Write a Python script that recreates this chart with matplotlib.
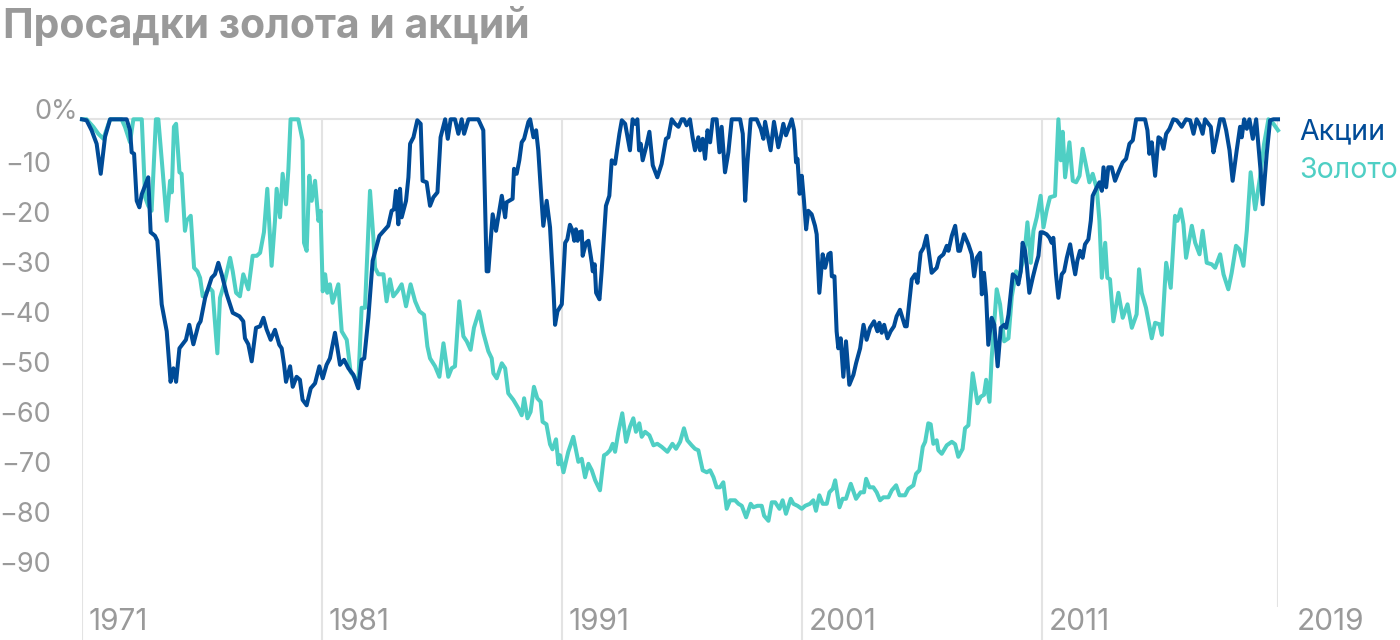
import matplotlib
matplotlib.use('Agg')
import matplotlib.pyplot as plt
from matplotlib.transforms import blended_transform_factory, offset_copy

plt.rcParams['font.family'] = ['Inter', 'DejaVu Sans']

# ---------------- data (drawdown from previous peak, %) ----------------
stocks_year = [
    1971.0, 1971.19, 1971.40, 1971.61, 1971.78, 1971.96, 1972.17, 1972.86, 1973.0, 1973.07,
    1973.17, 1973.28, 1973.39, 1973.49, 1973.76, 1973.86, 1974.04, 1974.14, 1974.32, 1974.53,
    1974.69, 1974.81, 1974.92, 1975.06, 1975.22, 1975.33, 1975.47, 1975.64, 1975.85, 1975.94,
    1976.13, 1976.40, 1976.54, 1976.68, 1976.82, 1977.03, 1977.28, 1977.56, 1977.72, 1977.79,
    1977.93, 1978.07, 1978.25, 1978.42, 1978.56, 1978.69, 1978.86, 1979.04, 1979.22, 1979.32,
    1979.42, 1979.50, 1979.67, 1979.78, 1979.94, 1980.08, 1980.19, 1980.36, 1980.53, 1980.71,
    1980.89, 1981.03, 1981.19, 1981.33, 1981.54, 1981.75, 1981.92, 1982.10, 1982.31, 1982.51,
    1982.65, 1982.76, 1982.93, 1983.11, 1983.39, 1983.63, 1983.76, 1983.90, 1984.00, 1984.08,
    1984.18, 1984.25, 1984.32, 1984.50, 1984.60, 1984.67, 1984.81, 1984.97, 1985.11, 1985.19,
    1985.36, 1985.50, 1985.64, 1985.81, 1985.94, 1986.13, 1986.24, 1986.36, 1986.54, 1986.68,
    1986.82, 1986.92, 1987.10, 1987.51, 1987.72, 1987.86, 1987.93, 1988.11, 1988.25, 1988.49,
    1988.63, 1988.69, 1988.94, 1989.00, 1989.11, 1989.22, 1989.32, 1989.42, 1989.60, 1989.67,
    1989.81, 1989.92, 1990.01, 1990.11, 1990.22, 1990.36, 1990.50, 1990.64, 1990.71, 1990.81,
    1990.99, 1991.13, 1991.22, 1991.33, 1991.44, 1991.51, 1991.58, 1991.65, 1991.72, 1991.82,
    1991.86, 1992.00, 1992.10, 1992.24, 1992.28, 1992.36, 1992.42, 1992.56, 1992.65, 1992.83,
    1992.97, 1993.07, 1993.21, 1993.31, 1993.39, 1993.49, 1993.63, 1993.83, 1993.94, 1994.04,
    1994.14, 1994.21, 1994.28, 1994.36, 1994.50, 1994.64, 1994.78, 1994.97, 1995.15, 1995.33,
    1995.43, 1995.57, 1995.71, 1995.85, 1995.99, 1996.08, 1996.19, 1996.33, 1996.44, 1996.54,
    1996.68, 1996.75, 1996.86, 1996.96, 1997.06, 1997.17, 1997.28, 1997.44, 1997.56, 1997.65,
    1997.79, 1997.93, 1998.07, 1998.42, 1998.53, 1998.63, 1998.72, 1998.86, 1999.11, 1999.28,
    1999.39, 1999.46, 1999.60, 1999.69, 1999.83, 2000.01, 2000.11, 2000.22, 2000.33, 2000.43,
    2000.57, 2000.67, 2000.75, 2000.81, 2000.90, 2000.99, 2001.08, 2001.17, 2001.26, 2001.40,
    2001.54, 2001.61, 2001.72, 2001.86, 2001.96, 2002.10, 2002.19, 2002.24, 2002.35, 2002.44,
    2002.51, 2002.61, 2002.72, 2002.83, 2002.97, 2003.14, 2003.25, 2003.42, 2003.56, 2003.69,
    2003.83, 2004.00, 2004.14, 2004.22, 2004.32, 2004.42, 2004.56, 2004.69, 2004.83, 2004.94,
    2005.08, 2005.29, 2005.36, 2005.57, 2005.71, 2005.81, 2005.94, 2006.06, 2006.19, 2006.40,
    2006.61, 2006.72, 2006.89, 2007.03, 2007.10, 2007.24, 2007.38, 2007.51, 2007.58, 2007.75,
    2007.93, 2008.07, 2008.17, 2008.28, 2008.42, 2008.49, 2008.58, 2008.67, 2008.76, 2008.90,
    2009.01, 2009.15, 2009.28, 2009.42, 2009.50, 2009.60, 2009.78, 2009.94, 2010.01, 2010.11,
    2010.19, 2010.29, 2010.36, 2010.47, 2010.61, 2010.75, 2010.85, 2010.94, 2011.03, 2011.19,
    2011.31, 2011.40, 2011.47, 2011.58, 2011.68, 2011.82, 2011.92, 2012.03, 2012.17, 2012.28,
    2012.38, 2012.47, 2012.58, 2012.69, 2012.79, 2012.93, 2013.03, 2013.11, 2013.25, 2013.39,
    2013.49, 2013.56, 2013.67, 2013.76, 2013.90, 2014.04, 2014.18, 2014.36, 2014.50, 2014.64,
    2014.78, 2014.92, 2015.29, 2015.39, 2015.47, 2015.57, 2015.71, 2015.85, 2015.94, 2016.06,
    2016.17, 2016.31, 2016.47, 2016.61, 2016.82, 2017.00, 2017.17, 2017.31, 2017.44, 2017.58,
    2017.69, 2017.79, 2017.93, 2018.03, 2018.14, 2018.25, 2018.42, 2018.56, 2018.67, 2018.81,
    2018.94, 2019.11, 2019.25, 2019.32, 2019.42, 2019.53, 2019.64, 2019.78, 2019.92, 2020.11,
    2020.19, 2020.36, 2020.50, 2020.64, 2020.83,
]
stocks_dd = [
    0, -0.2, -2.2, -4.9, -10.9, -3.5, 0, 0, -2.2, -6.6,
    -6.9, -16.3, -17.6, -15.0, -11.6, -22.6, -23.3, -24.3, -37.0, -42.4,
    -52.5, -49.8, -52.5, -45.8, -44.8, -44.1, -41.1, -45.0, -41.1, -40.4,
    -35.7, -31.7, -31.0, -28.7, -31.0, -35.0, -38.7, -39.4, -40.4, -43.8,
    -45.0, -48.4, -41.7, -41.4, -39.7, -42.0, -44.1, -42.1, -45.1, -45.8,
    -49.1, -52.5, -49.4, -53.5, -51.5, -52.1, -56.1, -57.2, -53.8, -52.8,
    -49.4, -51.8, -49.1, -47.8, -42.7, -49.1, -48.1, -49.8, -51.1, -53.8,
    -48.1, -47.8, -39.7, -28.3, -23.3, -22.0, -21.3, -18.3, -18.0, -14.3,
    -21.0, -13.9, -19.6, -16.3, -11.6, -4.9, -3.6, -0.2, -0.9, -12.3,
    -12.6, -17.3, -15.6, -14.6, -3.6, 0, -3.9, 0, 0, -2.9,
    0, -2.9, 0, 0, -2.2, -30.4, -30.4, -19.0, -22.3, -15.3,
    -19.6, -16.6, -15.9, -9.9, -10.9, -8.2, -4.6, -3.9, -0.5, 0,
    -3.6, -2.2, -6.2, -13.6, -21.3, -16.3, -21.6, -33.7, -41.1, -38.4,
    -37.0, -24.7, -24.0, -21.1, -22.3, -24.3, -22.0, -24.3, -22.6, -22.4,
    -27.3, -24.7, -24.3, -28.7, -30.4, -29.0, -34.7, -36.0, -30.4, -17.3,
    -15.3, -8.2, -8.9, -5.6, -2.9, -0.2, -0.9, -6.2, 0, -0.9,
    0, -6.2, -4.9, -8.2, -5.6, -2.5, -9.2, -11.6, -8.9, -3.9,
    -3.6, 0, -0.9, -1.5, 0, 0, -1.2, 0, -3.6, -6.2,
    -3.6, -6.2, -3.9, -7.9, -2.2, -4.6, 0, 0, -6.6, -1.5,
    -10.6, -6.6, 0, 0, -2.9, -16.3, -8.9, 0, 0, -1.9,
    -3.9, -0.5, -3.9, -6.2, -0.5, -5.6, -3.6, -0.9, -3.2, -1.9,
    0, -2.2, -8.6, -7.9, -14.9, -11.3, -16.3, -22.0, -18.3, -19.0,
    -21.3, -23.0, -34.7, -27.0, -29.7, -27.0, -26.7, -31.4, -31.4, -42.4,
    -45.8, -43.8, -51.5, -44.4, -53.1, -51.1, -48.8, -45.8, -41.1, -44.1,
    -41.7, -40.4, -42.4, -40.7, -42.7, -41.1, -43.8, -42.4, -41.4, -39.4,
    -38.1, -41.4, -41.4, -32.0, -31.0, -32.7, -26.7, -25.7, -23.3, -30.7,
    -29.7, -27.7, -27.0, -25.3, -26.3, -23.3, -21.3, -26.3, -26.3, -23.0,
    -25.0, -27.0, -31.4, -27.7, -26.7, -35.0, -30.7, -35.4, -45.1, -39.7,
    -41.1, -49.4, -41.7, -41.1, -41.7, -39.1, -31.0, -31.7, -33.0, -30.4,
    -24.7, -26.3, -29.0, -34.7, -31.7, -29.0, -27.3, -22.6, -22.6, -23.0,
    -23.7, -24.7, -23.7, -31.0, -35.7, -31.0, -30.4, -27.7, -25.0, -28.3,
    -31.0, -28.3, -26.3, -27.7, -25.0, -24.0, -20.3, -15.3, -13.9, -12.6,
    -14.3, -9.6, -13.6, -9.6, -9.6, -12.3, -10.6, -8.6, -7.9, -4.9,
    -4.2, 0, 0, -2.2, -6.9, -4.6, -11.3, -3.6, -3.9, -5.9,
    -2.9, -1.9, 0, -0.2, -1.5, 0, -0.2, -2.9, 0, -1.2,
    -2.9, 0, -0.9, -1.5, -6.6, -4.2, 0, 0, -2.2, -6.2,
    -12.3, -6.2, -1.5, -3.6, 0, -1.9, 0, -3.9, 0, -10.6,
    -17.0, -6.9, -0.2, 0, 0,
]

gold_year = [
    1971.0, 1971.19, 1971.47, 1971.68, 1971.89, 1972.17, 1972.65, 1972.79, 1973.0, 1973.14,
    1973.49, 1973.63, 1973.76, 1973.90, 1974.08, 1974.18, 1974.36, 1974.53, 1974.67, 1974.74,
    1974.83, 1974.92, 1975.06, 1975.15, 1975.29, 1975.36, 1975.53, 1975.67, 1975.81, 1975.92,
    1976.03, 1976.17, 1976.31, 1976.44, 1976.64, 1976.75, 1976.92, 1977.17, 1977.28, 1977.42,
    1977.58, 1977.72, 1977.93, 1978.11, 1978.28, 1978.42, 1978.58, 1978.72, 1978.90, 1979.04,
    1979.11, 1979.25, 1979.36, 1979.50, 1979.60, 1979.69, 1980.01, 1980.19, 1980.25, 1980.36,
    1980.47, 1980.57, 1980.71, 1980.85, 1980.94, 1981.03, 1981.13, 1981.22, 1981.33, 1981.44,
    1981.68, 1981.82, 1982.03, 1982.19, 1982.38, 1982.51, 1982.65, 1982.79, 1983.00, 1983.14,
    1983.21, 1983.35, 1983.56, 1983.69, 1983.83, 1983.97, 1984.14, 1984.32, 1984.50, 1984.69,
    1984.88, 1985.06, 1985.25, 1985.39, 1985.50, 1985.71, 1985.89, 1986.06, 1986.26, 1986.40,
    1986.54, 1986.72, 1986.89, 1987.03, 1987.19, 1987.33, 1987.54, 1987.72, 1987.93, 1988.07,
    1988.14, 1988.28, 1988.49, 1988.63, 1988.76, 1988.97, 1989.18, 1989.32, 1989.42, 1989.56,
    1989.69, 1989.83, 1989.97, 1990.11, 1990.19, 1990.35, 1990.50, 1990.60, 1990.75, 1990.85,
    1990.92, 1991.06, 1991.26, 1991.47, 1991.68, 1991.82, 1991.96, 1992.10, 1992.24, 1992.38,
    1992.58, 1992.75, 1992.86, 1993.00, 1993.11, 1993.21, 1993.35, 1993.51, 1993.67, 1993.83,
    1993.97, 1994.08, 1994.22, 1994.32, 1994.46, 1994.64, 1994.81, 1994.97, 1995.15, 1995.39,
    1995.60, 1995.75, 1995.92, 1996.08, 1996.22, 1996.40, 1996.54, 1996.68, 1996.86, 1997.03,
    1997.17, 1997.31, 1997.44, 1997.58, 1997.72, 1997.86, 1998.00, 1998.21, 1998.35, 1998.49,
    1998.67, 1998.86, 1998.97, 1999.14, 1999.32, 1999.42, 1999.60, 1999.74, 1999.88, 2000.06,
    2000.19, 2000.33, 2000.53, 2000.64, 2000.81, 2000.99, 2001.13, 2001.33, 2001.47, 2001.58,
    2001.72, 2001.86, 2002.03, 2002.14, 2002.28, 2002.38, 2002.56, 2002.69, 2002.83, 2003.03,
    2003.25, 2003.44, 2003.58, 2003.67, 2003.81, 2003.97, 2004.11, 2004.25, 2004.39, 2004.60,
    2004.74, 2004.92, 2005.06, 2005.29, 2005.43, 2005.64, 2005.75, 2005.89, 2006.03, 2006.13,
    2006.26, 2006.36, 2006.47, 2006.61, 2006.68, 2006.82, 2007.03, 2007.24, 2007.38, 2007.51,
    2007.69, 2007.79, 2007.93, 2008.11, 2008.31, 2008.44, 2008.58, 2008.67, 2008.81, 2008.90,
    2009.11, 2009.25, 2009.42, 2009.60, 2009.74, 2009.92, 2010.06, 2010.15, 2010.25, 2010.39,
    2010.53, 2010.64, 2010.78, 2010.94, 2011.06, 2011.19, 2011.33, 2011.54, 2011.68, 2011.78,
    2011.86, 2011.96, 2012.14, 2012.28, 2012.42, 2012.56, 2012.69, 2012.86, 2012.97, 2013.11,
    2013.28, 2013.39, 2013.49, 2013.63, 2013.72, 2013.83, 2013.97, 2014.18, 2014.36, 2014.56,
    2014.74, 2014.94, 2015.04, 2015.15, 2015.33, 2015.57, 2015.71, 2015.89, 2015.99, 2016.17,
    2016.36, 2016.54, 2016.64, 2016.78, 2016.89, 2017.00, 2017.24, 2017.38, 2017.56, 2017.69,
    2017.86, 2018.07, 2018.21, 2018.42, 2018.56, 2018.76, 2018.90, 2019.08, 2019.22, 2019.39,
    2019.53, 2019.69, 2019.88, 2020.08, 2020.25, 2020.43, 2020.64, 2020.83,
]
gold_dd = [
    0, 0, -1.5, -2.9, -3.9, 0, 0, -1.5, -4.6, 0,
    0, -15.6, -17.3, -18.3, 0, 0, -10.3, -20.3, -12.3, -14.6,
    -1.5, -0.9, -10.6, -10.9, -22.3, -20.3, -19.3, -29.7, -30.4, -31.7,
    -35.4, -34.7, -33.7, -34.4, -46.8, -35.7, -33.0, -27.7, -30.4, -34.7,
    -35.4, -31.0, -34.0, -27.3, -27.3, -26.7, -22.6, -13.9, -29.3, -20.3,
    -13.9, -19.6, -10.9, -17.0, -9.9, 0, 0, -4.2, -24.7, -26.3,
    -11.3, -16.3, -12.3, -20.3, -18.3, -34.4, -31.0, -34.7, -33.0, -36.7,
    -33.0, -42.4, -44.1, -50.5, -51.8, -52.8, -37.7, -37.7, -14.3, -23.7,
    -29.7, -31.0, -31.0, -36.4, -32.0, -35.4, -34.4, -33.0, -37.4, -33.0,
    -36.4, -38.4, -39.1, -45.4, -47.8, -49.4, -51.5, -44.8, -51.5, -49.8,
    -49.4, -36.4, -43.4, -44.4, -46.1, -41.7, -38.4, -42.7, -46.4, -47.8,
    -50.8, -51.8, -48.8, -49.8, -54.8, -56.1, -57.8, -59.2, -55.8, -59.8,
    -58.5, -53.5, -55.8, -56.5, -60.5, -61.0, -65.0, -66.0, -64.0, -69.0,
    -67.2, -70.6, -66.5, -63.5, -68.5, -67.9, -71.6, -68.9, -70.2, -72.2,
    -74.2, -67.2, -66.9, -66.2, -64.9, -66.5, -62.5, -58.8, -64.5, -61.5,
    -59.8, -62.5, -60.8, -63.5, -62.5, -63.2, -65.2, -64.9, -65.5, -66.5,
    -64.9, -65.9, -64.5, -61.8, -64.2, -65.2, -65.9, -66.2, -70.2, -70.6,
    -70.2, -71.6, -73.6, -73.6, -72.6, -77.9, -76.2, -76.2, -76.9, -77.3,
    -79.6, -76.9, -77.6, -77.3, -77.3, -79.3, -80.3, -76.6, -76.6, -77.9,
    -76.2, -78.9, -75.9, -76.9, -77.3, -77.9, -77.3, -76.9, -76.2, -78.3,
    -75.2, -76.9, -76.9, -74.6, -73.9, -72.2, -77.6, -75.9, -75.9, -72.9,
    -75.9, -74.6, -74.6, -71.9, -73.6, -73.6, -74.6, -76.2, -75.6, -75.6,
    -74.2, -73.2, -75.2, -75.2, -73.9, -73.2, -70.9, -70.2, -65.5, -64.5,
    -60.8, -61.0, -64.9, -64.2, -66.2, -66.9, -65.2, -64.5, -65.0, -67.5,
    -65.9, -61.8, -61.2, -50.8, -56.8, -55.5, -55.1, -52.1, -56.5, -47.8,
    -34.0, -37.0, -44.4, -43.8, -35.4, -30.4, -31.5, -29.3, -27.7, -20.6,
    -28.7, -22.3, -19.6, -15.3, -21.6, -18.3, -15.6, -15.3, 0, -8.2,
    -2.5, -11.6, -4.6, -12.3, -12.6, -11.3, -5.9, -9.9, -12.6, -10.9,
    -13.9, -20.3, -31.7, -24.7, -31.7, -32.0, -40.4, -34.7, -39.7, -37.0,
    -41.7, -39.0, -30.0, -34.7, -37.7, -43.8, -40.7, -41.0, -43.1, -28.7,
    -33.7, -19.3, -20.3, -18.0, -21.0, -27.7, -21.3, -24.7, -27.0, -22.3,
    -28.7, -29.0, -29.7, -27.0, -31.0, -34.0, -30.7, -25.3, -26.0, -29.3,
    -22.3, -10.6, -18.0, -11.6, -4.9, 0, -0.9, -2.2,
]

series_names = ['Акции', 'Золото']
year_ticks = [1971, 1981, 1991, 2001, 2011]
last_tick_label = '2019'
y_ticks = [0, -10, -20, -30, -40, -50, -60, -70, -80, -90]
title = 'Просадки золота и акций'

# ---------------- styling ----------------
BLUE = '#004b97'
TEAL = '#4fcfc4'
GREY_TXT = '#9a9a9a'
GRID = '#e3e3e3'

W, H = 1400, 640
fig = plt.figure(figsize=(W / 100, H / 100), dpi=100)
px_left, px_right, px_top, px_bottom = 82, 1278, 109, 640
ax = fig.add_axes([px_left / W, 1 - px_bottom / H,
                   (px_right - px_left) / W, (px_bottom - px_top) / H])
zero_px = 119.3
ppu = 5.0  # pixels per percentage point
ax.set_ylim(-(px_bottom - zero_px) / ppu, (zero_px - px_top) / ppu)
x_end = stocks_year[-1]
ax.set_xlim(1971.0, x_end)
ax.axis('off')

# grid
ax.plot([1971.0, x_end], [0, 0], color=GRID, lw=1.5, zorder=1, solid_capstyle='butt')
ylo, yhi = ax.get_ylim()
for yr in year_ticks:
    ax.plot([yr, yr], [ylo, 0], color=GRID, lw=1.5, zorder=1, solid_capstyle='butt')
ax.plot([x_end, x_end], [-(607 - zero_px) / ppu, 0], color=GRID, lw=1.5, zorder=1,
        solid_capstyle='butt')

# lines
ax.plot(stocks_year, stocks_dd, color=BLUE, lw=2.9, zorder=3, clip_on=False)
ax.plot(gold_year, gold_dd, color=TEAL, lw=2.9, zorder=2, clip_on=False)

# y tick labels
fs = 20.5
fsy = 19.5
ytrans = blended_transform_factory(fig.transFigure, ax.transData)
for v in y_ticks:
    if v == 0:
        fig.text(51 / W, 0, '0', transform=ytrans, ha='right', va='baseline',
                 fontsize=fsy, color=GREY_TXT)
        fig.text(51 / W, 0, '%', transform=ytrans, ha='left', va='baseline',
                 fontsize=fsy, color=GREY_TXT)
    else:
        t = offset_copy(ytrans, fig=fig, x=0, y=-2.4 * 0.72, units='points')
        fig.text(51 / W, v, '\u2212' + str(abs(v)), transform=t, ha='right',
                 va='baseline', fontsize=fsy, color=GREY_TXT)

# x tick labels
fsx = 21.5
xtrans = blended_transform_factory(ax.transData, fig.transFigure)
for yr in year_ticks:
    t = offset_copy(xtrans, fig=fig, x=6.5 * 0.72, y=0, units='points')
    fig.text(yr, 1 - 630 / H, str(yr), transform=t, ha='left', va='baseline',
             fontsize=fsx, color=GREY_TXT)
t = offset_copy(xtrans, fig=fig, x=19 * 0.72, y=0, units='points')
fig.text(x_end, 1 - 630 / H, last_tick_label, transform=t, ha='left', va='baseline',
         fontsize=fsx, color=GREY_TXT)

# series labels
fig.text(1299 / W, 1 - 139.3 / H, series_names[0], ha='left', va='baseline',
         fontsize=fs, color=BLUE)
fig.text(1299 / W, 1 - 178.5 / H, series_names[1], ha='left', va='baseline',
         fontsize=fs, color=TEAL)

# title
fig.text(3 / W, 1 - 38 / H, title, ha='left', va='baseline', fontsize=29.5,
         fontweight='bold', color='#999999')

fig.savefig('out.png', dpi=100)
